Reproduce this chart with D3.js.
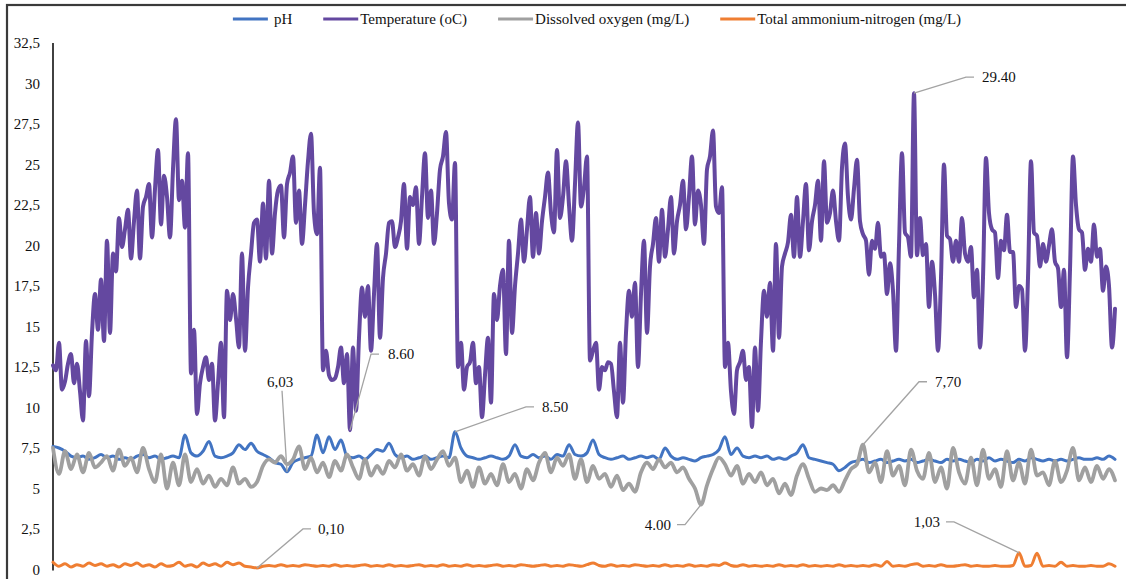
<!DOCTYPE html>
<html>
<head>
<meta charset="utf-8">
<script src="https://cdn.jsdelivr.net/npm/d3@7"></script>
<style>
  html, body { margin: 0; padding: 0; background: #fff; }
  svg { display: block; font-family: "Liberation Serif", "Times New Roman", serif; }
</style>
</head>
<body>
<div id="chart"></div>
<script>
// ------------------------------------------------------------------
// Data

const yTicks = [0, 2.5, 5, 7.5, 10, 12.5, 15, 17.5, 20, 22.5, 25, 27.5, 30, 32.5];

const seriesNames = ['pH', 'Temperature (oC)', 'Dissolved oxygen (mg/L)', 'Total ammonium-nitrogen (mg/L)'];

// temperature, one value per sample step
const temperature = [
  12.6, 12.3, 14.0, 11.1, 11.6, 12.7, 13.3, 11.5, 12.7, 11.0, 9.2, 14.1, 10.7, 14.6, 17.0, 14.8, 17.9, 14.1, 20.3, 14.6,
  19.5, 18.4, 21.7, 19.9, 21.0, 22.2, 19.2, 21.5, 23.4, 19.2, 22.4, 23.0, 23.8, 20.5, 23.5, 25.9, 21.3, 24.3, 23.0, 20.5,
  24.7, 27.8, 22.8, 24.0, 21.1, 25.7, 12.1, 14.8, 9.6, 11.5, 12.5, 13.1, 11.7, 12.7, 9.2, 11.5, 14.0, 9.4, 17.2, 15.4,
  17.0, 15.5, 13.7, 19.5, 13.5, 17.4, 19.5, 21.4, 21.6, 19.0, 22.6, 19.2, 24.0, 19.5, 22.0, 23.4, 23.7, 20.5, 23.8, 24.5,
  25.5, 21.4, 23.4, 20.1, 22.5, 25.2, 26.9, 22.0, 20.7, 24.8, 12.3, 13.5, 12.0, 11.7, 11.8, 12.5, 13.7, 11.5, 13.3, 8.6,
  13.7, 9.8, 14.3, 17.4, 15.6, 17.5, 13.5, 17.0, 20.1, 14.3, 18.0, 19.5, 21.4, 21.5, 19.9, 20.5, 21.5, 23.8, 19.8, 23.0,
  22.5, 23.6, 20.1, 23.0, 25.7, 21.7, 23.4, 20.1, 22.0, 24.7, 25.5, 27.0, 22.6, 21.6, 25.1, 12.5, 14.0, 11.1, 12.5, 12.8,
  14.0, 11.5, 12.5, 9.4, 12.0, 14.3, 10.3, 17.0, 15.4, 17.5, 18.5, 13.3, 20.3, 14.6, 17.5, 19.5, 21.6, 19.0, 21.0, 23.0,
  19.3, 22.0, 19.5, 21.5, 23.0, 24.5, 22.0, 20.8, 25.9, 21.7, 23.0, 25.2, 22.5, 20.3, 23.8, 27.6, 22.4, 23.6, 25.5, 12.9,
  13.5, 14.0, 11.1, 12.5, 12.3, 12.8, 12.7, 11.0, 9.4, 14.0, 10.3, 14.6, 17.2, 15.6, 17.7, 12.5, 17.0, 20.3, 14.6, 18.7,
  20.1, 21.7, 19.0, 22.2, 19.3, 21.0, 23.0, 19.5, 21.5, 22.5, 24.0, 21.0, 23.0, 25.5, 21.3, 23.4, 22.5, 20.1, 24.7, 25.5,
  27.1, 22.4, 22.0, 23.6, 12.5, 14.0, 11.0, 9.6, 12.3, 12.8, 13.5, 11.7, 12.5, 8.8, 13.7, 9.8, 14.1, 17.2, 15.6, 17.7,
  13.5, 20.1, 14.3, 18.7, 19.5, 20.2, 21.9, 19.3, 23.0, 19.3, 21.5, 23.8, 19.7, 21.5, 22.5, 24.0, 20.3, 25.2, 21.4, 22.0,
  23.4, 21.5, 20.3, 24.8, 26.3, 23.0, 21.6, 23.5, 25.3, 21.5, 20.7, 20.3, 18.2, 20.3, 19.8, 21.4, 19.3, 19.5, 17.0, 18.9,
  17.2, 13.5, 20.0, 25.7, 20.8, 20.5, 19.3, 29.4, 19.4, 21.7, 19.4, 20.1, 16.2, 19.0, 17.0, 13.5, 18.0, 25.0, 20.6, 20.4,
  19.0, 20.3, 19.0, 21.7, 19.5, 19.0, 19.9, 16.8, 18.5, 13.7, 18.0, 25.4, 22.0, 21.0, 20.8, 18.0, 20.3, 19.7, 21.9, 19.6,
  19.6, 16.2, 17.5, 17.3, 13.5, 18.0, 25.2, 20.8, 20.6, 18.7, 20.1, 19.0, 20.0, 21.0, 19.0, 18.6, 16.2, 18.5, 13.1, 18.5,
  25.5, 22.5, 21.0, 20.8, 18.5, 19.8, 19.0, 21.3, 19.3, 19.8, 17.2, 18.7, 17.5, 13.7, 16.1
];

// the three water-quality series were read every second sample step
const ph = [
  7.6, 7.5, 7.3, 7.0, 6.9, 7.0, 6.8, 6.9, 7.1, 6.9, 7.0, 6.8, 6.9, 6.8, 7.0, 7.1, 6.9, 7.0, 6.8, 6.9,
  7.0, 6.9, 8.3, 7.2, 7.0, 7.3, 7.9, 7.0, 6.9, 7.0, 7.2, 7.7, 7.4, 7.8, 7.3, 7.1, 6.9, 6.6, 6.5, 6.03,
  6.6, 6.8, 6.9, 7.0, 8.3, 7.2, 8.2, 7.4, 8.0, 7.0, 6.9, 7.0, 6.8, 7.1, 7.4, 7.3, 7.8, 7.1, 6.9, 7.0,
  6.8, 6.9, 7.0, 6.8, 6.9, 7.0, 6.9, 8.5, 7.5, 7.0, 6.9, 6.8, 6.9, 7.0, 6.9, 6.8, 7.0, 7.7, 7.0, 6.9,
  7.1, 6.9, 7.0, 6.8, 7.1, 7.0, 7.7, 7.1, 7.0, 7.2, 8.0, 7.1, 6.9, 6.8, 6.9, 7.0, 6.8, 6.9, 7.0, 6.9,
  7.0, 6.8, 7.5, 7.0, 6.8, 6.9, 6.8, 6.7, 6.9, 7.0, 7.1, 7.4, 8.2, 7.1, 7.5, 7.0, 6.9, 7.0, 6.9, 7.0,
  6.8, 6.9, 6.8, 7.0, 7.2, 7.7, 6.9, 6.8, 6.7, 6.6, 6.5, 6.1, 6.3, 6.6, 6.7, 6.8, 6.6, 6.7, 6.8, 6.6,
  6.7, 6.8, 6.7, 6.8, 6.6, 6.7, 6.8, 6.7, 6.6, 6.8, 6.7, 6.8, 6.7, 6.6, 6.8, 6.7, 6.9, 6.7, 6.8, 6.7,
  6.6, 6.8, 6.7, 6.9, 6.8, 6.7, 6.8, 6.7, 6.8, 6.7, 6.8, 6.9, 6.8, 6.8, 6.9, 6.8, 7.0, 6.8
];

const oxygen = [
  7.5, 5.9, 7.3, 6.2, 7.1, 6.0, 7.2, 6.3, 6.6, 7.0, 6.1, 7.4, 6.4, 6.9, 6.0, 7.5, 6.2, 5.4, 7.1, 5.0,
  6.6, 5.2, 7.1, 5.4, 6.2, 5.3, 5.8, 5.1, 5.6, 5.2, 6.3, 5.3, 5.6, 5.1, 5.4, 6.4, 6.8, 6.6, 7.0, 6.5,
  6.8, 7.6, 6.2, 6.9, 6.0, 6.6, 5.7, 6.7, 6.1, 7.1, 6.3, 5.6, 6.8, 5.8, 6.4, 5.9, 6.7, 6.3, 7.1, 6.1,
  6.5, 5.8, 7.0, 6.2, 6.8, 7.3, 6.4, 6.9, 5.4, 6.1, 5.1, 6.3, 5.3, 5.9, 5.2, 6.5, 5.4, 5.9, 5.0, 6.2,
  5.5, 6.6, 7.2, 6.0, 6.9, 6.4, 7.1, 5.6, 6.8, 5.4, 6.4, 5.6, 5.9, 5.1, 5.8, 4.9, 5.3, 4.8, 6.0, 6.6,
  6.2, 6.8, 6.3, 6.6, 6.0, 6.3, 5.6, 5.0, 4.0, 5.2, 6.2, 6.9, 6.5, 5.8, 6.4, 5.3, 5.9, 5.4, 6.0, 5.2,
  5.6, 4.7, 5.3, 4.6, 5.8, 6.5, 5.6, 4.8, 5.0, 4.9, 5.2, 4.8, 5.5, 6.2, 6.5, 7.7, 6.0, 6.6, 5.4, 7.3,
  5.8, 6.4, 5.2, 7.4, 6.1, 5.6, 7.2, 5.4, 6.3, 5.0, 7.5, 6.0, 5.3, 6.9, 5.2, 7.4, 5.6, 6.2, 5.1, 7.3,
  5.5, 6.6, 5.3, 7.4, 5.8, 6.0, 5.2, 6.7, 5.4, 6.1, 7.5, 5.5, 6.3, 5.4, 6.4, 5.6, 6.2, 5.5
];

const ammonium = [
  0.45, 0.2, 0.35, 0.15, 0.3, 0.2, 0.4, 0.25, 0.35, 0.2, 0.3, 0.15, 0.35, 0.25, 0.4, 0.2, 0.3, 0.15, 0.35, 0.2,
  0.25, 0.45, 0.2, 0.3, 0.15, 0.4, 0.25, 0.35, 0.2, 0.45, 0.3, 0.4, 0.2, 0.15, 0.1, 0.2, 0.25, 0.2, 0.3, 0.2,
  0.25, 0.2, 0.3, 0.25, 0.2, 0.25, 0.2, 0.3, 0.2, 0.25, 0.2, 0.25, 0.3, 0.2, 0.25, 0.2, 0.3, 0.2, 0.25, 0.2,
  0.25, 0.3, 0.2, 0.25, 0.2, 0.3, 0.2, 0.25, 0.2, 0.3, 0.2, 0.25, 0.2, 0.25, 0.3, 0.2, 0.25, 0.2, 0.3, 0.25,
  0.2, 0.25, 0.3, 0.2, 0.25, 0.2, 0.3, 0.25, 0.2, 0.3, 0.4, 0.25, 0.2, 0.3, 0.2, 0.25, 0.2, 0.3, 0.25, 0.2,
  0.25, 0.2, 0.3, 0.2, 0.25, 0.2, 0.3, 0.2, 0.25, 0.2, 0.3, 0.25, 0.4, 0.25, 0.2, 0.3, 0.2, 0.25, 0.2, 0.25,
  0.2, 0.3, 0.2, 0.25, 0.2, 0.3, 0.2, 0.25, 0.2, 0.25, 0.2, 0.3, 0.2, 0.25, 0.2, 0.25, 0.2, 0.3, 0.2, 0.5,
  0.2, 0.25, 0.2, 0.3, 0.35, 0.2, 0.25, 0.2, 0.3, 0.2, 0.2, 0.25, 0.3, 0.2, 0.25, 0.2, 0.2, 0.25, 0.2, 0.2,
  0.25, 1.03, 0.2, 0.25, 1.0, 0.2, 0.25, 0.2, 0.45, 0.2, 0.25, 0.2, 0.2, 0.25, 0.2, 0.2, 0.35, 0.2
];

// labelled extremes: series, sample position in that series, label
const annotations = [
  { series: 'ph', index: 39, text: '6,03' },
  { series: 'temperature', index: 99, text: '8.60' },
  { series: 'ph', index: 67, text: '8.50' },
  { series: 'temperature', index: 287, text: '29.40' },
  { series: 'oxygen', index: 135, text: '7,70' },
  { series: 'oxygen', index: 108, text: '4.00' },
  { series: 'ammonium', index: 34, text: '0,10' },
  { series: 'ammonium', index: 161, text: '1,03' }
];

// ------------------------------------------------------------------
// Layout

const width = 1126;
const height = 579;
const plot = { left: 53, right: 1115, top: 43, bottom: 569.5 };
const colors = { ph: '#4274c2', temperature: '#6448a0', oxygen: '#a0a0a0', ammonium: '#ef7e32' };
const strokes = { ph: 3, temperature: 4, oxygen: 3.8, ammonium: 3 };
const fontSize = 15;

// label placement (offset from the marked point) and leader shape
const labelLayout = [
  { dx: -7, dy: -90, anchor: 'middle', knee: null },
  { dx: 38, dy: -76, anchor: 'start', knee: 25 },
  { dx: 87, dy: -25, anchor: 'start', knee: 75 },
  { dx: 68, dy: -16, anchor: 'start', knee: 56 },
  { dx: 72, dy: -63, anchor: 'start', knee: 60 },
  { dx: -30, dy: 20, anchor: 'end', knee: -20 },
  { dx: 61, dy: -39, anchor: 'start', knee: 50 },
  { dx: -79, dy: -31, anchor: 'end', knee: -69 }
];

const svg = d3.select('#chart').append('svg')
  .attr('width', width)
  .attr('height', height);

// outer chart frame (runs off the right and bottom of the picture)
svg.append('rect')
  .attr('x', 7).attr('y', 5)
  .attr('width', width + 20).attr('height', height + 20)
  .attr('fill', 'none')
  .attr('stroke', '#3a3a3a')
  .attr('stroke-width', 2.2);

const x = d3.scaleLinear().domain([0, temperature.length - 1]).range([plot.left, plot.right]);
const y = d3.scaleLinear().domain([0, 32.5]).range([plot.bottom, plot.top]);

// y axis
const yAxis = svg.append('g')
  .attr('transform', `translate(${plot.left},0)`)
  .call(d3.axisLeft(y).tickValues(yTicks).tickSize(0).tickPadding(13)
    .tickFormat(d => d3.format('.1~f')(d).replace('.', ',')));
yAxis.attr('font-family', null).attr('font-size', fontSize);
yAxis.select('.domain').attr('stroke', '#111').attr('stroke-width', 1.6)
  .attr('d', `M0,${plot.top}V${plot.bottom + 1}`);
yAxis.selectAll('text').attr('fill', '#111');

// series
const series = { ph: ph, temperature: temperature, oxygen: oxygen, ammonium: ammonium };
const stepOf = key => (temperature.length - 1) / (series[key].length - 1);
const line = key => d3.line()
  .x((d, i) => x(i * stepOf(key)))
  .y(d => y(d))
  .curve(d3.curveMonotoneX);

['ph', 'temperature', 'oxygen', 'ammonium'].forEach(key => {
  svg.append('path')
    .datum(series[key])
    .attr('fill', 'none')
    .attr('stroke', colors[key])
    .attr('stroke-width', strokes[key])
    .attr('stroke-linejoin', 'round')
    .attr('stroke-linecap', 'round')
    .attr('d', line(key));
});

// annotations
annotations.forEach((a, k) => {
  const lay = labelLayout[k];
  const px = x(a.index * stepOf(a.series));
  const py = y(series[a.series][a.index]);
  const lx = px + lay.dx;
  const ly = py + lay.dy;
  let d;
  if (lay.knee === null) {
    d = `M${px},${py}L${lx + 2},${ly + 9}`;
  } else {
    const sgn = lay.knee > 0 ? 1 : -1;
    d = `M${px},${py}L${px + lay.knee - 4 * sgn},${ly}L${px + lay.knee + 4 * sgn},${ly}`;
  }
  svg.append('path')
    .attr('d', d)
    .attr('fill', 'none')
    .attr('stroke', '#a3a3a3')
    .attr('stroke-width', 1.3);
  svg.append('text')
    .attr('x', lx)
    .attr('y', ly)
    .attr('dy', '0.35em')
    .attr('text-anchor', lay.anchor)
    .attr('font-size', fontSize)
    .attr('fill', '#111')
    .text(a.text);
});

// legend
const legend = svg.append('g').attr('font-size', fontSize);
const keys = ['ph', 'temperature', 'oxygen', 'ammonium'];
let cursor = 0;
keys.forEach((key, i) => {
  const g = legend.append('g');
  g.append('line')
    .attr('x1', 0).attr('x2', 35)
    .attr('y1', 19).attr('y2', 19)
    .attr('stroke', colors[key])
    .attr('stroke-width', 3);
  const tx = i === 0 ? 41 : 37;
  const t = g.append('text')
    .attr('x', tx)
    .attr('y', 19)
    .attr('dy', '0.35em')
    .attr('fill', '#111')
    .text(seriesNames[i]);
  g.attr('transform', `translate(${cursor},0)`);
  cursor += tx + t.node().getComputedTextLength() + 31;
});
legend.attr('transform', `translate(${597 - (cursor - 31) / 2},0)`);
</script>
</body>
</html>
